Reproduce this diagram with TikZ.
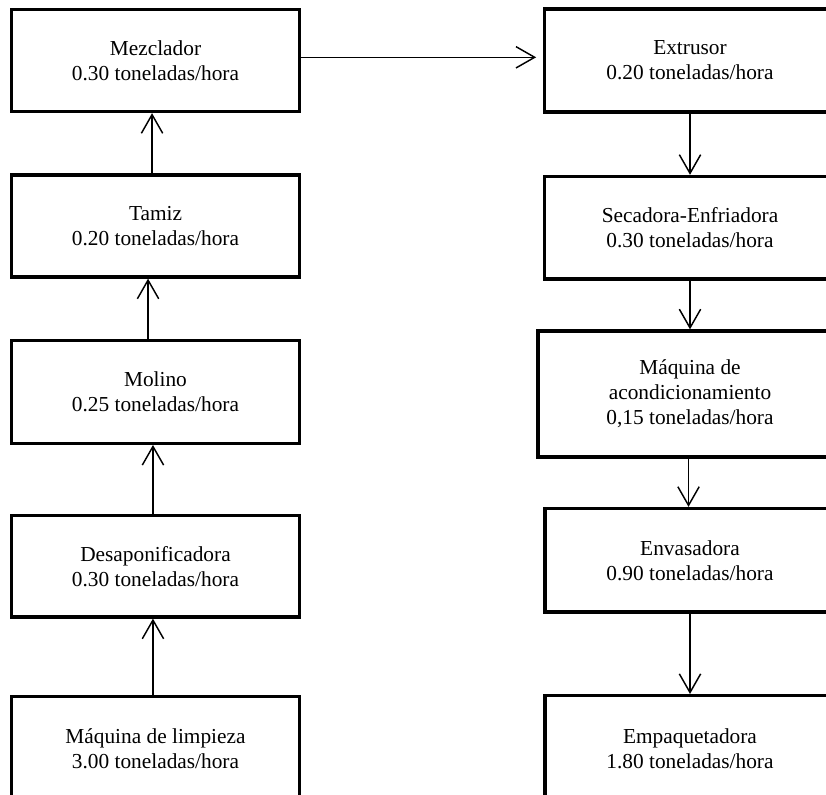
\documentclass[tikz,border=0pt]{standalone}
\usepackage{fontspec}
\setmainfont{Liberation Serif}
\usetikzlibrary{arrows.meta}
\tikzset{
  box/.style={draw=black, line width=2.5pt, fill=white, align=center, inner sep=0pt,
    font=\fontsize{16}{18.75}\selectfont},
  arr/.style={draw=black, line width=1.1pt,
    -{Straight Barb[length=14pt, width=16pt, line width=1.1pt]}}
}
\begin{document}
\begin{tikzpicture}[x=0.75pt, y=-0.75pt]
\useasboundingbox (0,0) rectangle (826,795);
\clip (0,0) rectangle (826,795);
% left column
\node[box, minimum width=216pt, minimum height=76.5pt] (mez) at (155.5,60.5) {Mezclador\\0.30 toneladas/hora};
\node[box, minimum width=216pt, minimum height=76.5pt] (tam) at (155.5,226) {Tamiz\\0.20 toneladas/hora};
\node[box, minimum width=216pt, minimum height=77.3pt] (mol) at (155.5,391.75) {Molino\\0.25 toneladas/hora};
\node[box, minimum width=216pt, minimum height=76.1pt] (des) at (155.5,566.25) {Desaponificadora\\0.30 toneladas/hora};
\node[box, minimum width=216pt, minimum height=79pt] (lim) at (155.5,749) {M\'aquina de limpieza\\3.00 toneladas/hora};
% right column
\node[box, minimum width=218.3pt, minimum height=77.3pt] (ext) at (690,60.5) {Extrusor\\0.20 toneladas/hora};
\node[box, minimum width=218.3pt, minimum height=76.9pt] (sec) at (690,227.75) {Secadora-Enfriadora\\0.30 toneladas/hora};
\node[box, minimum width=228pt, minimum height=94.5pt] (aco) at (690,394) {M\'aquina de\\acondicionamiento\\0,15 toneladas/hora};
\node[box, minimum width=217.5pt, minimum height=77.6pt] (env) at (690,560.25) {Envasadora\\0.90 toneladas/hora};
\node[box, minimum width=217.5pt, minimum height=80pt] (emp) at (690,749) {Empaquetadora\\1.80 toneladas/hora};
% connectors
\draw[arr, shorten >=5pt] ([yshift=2.4pt]mez.east) -- ([yshift=2.4pt]ext.west);
\draw[arr] ([xshift=-2.6pt]tam.north) -- ([xshift=-2.6pt]mez.south);
\draw[arr] ([xshift=-5.6pt]mol.north) -- ([xshift=-5.6pt]tam.south);
\draw[arr] ([xshift=-1.9pt]des.north) -- ([xshift=-1.9pt]mol.south);
\draw[arr] ([xshift=-1.9pt]lim.north) -- ([xshift=-1.9pt]des.south);
\draw[arr] (ext.south) -- (sec.north);
\draw[arr] (sec.south) -- (aco.north);
\draw[arr] ([xshift=-1.1pt]aco.south) -- ([xshift=-1.1pt]env.north);
\draw[arr] (env.south) -- (emp.north);
\end{tikzpicture}
\end{document}
